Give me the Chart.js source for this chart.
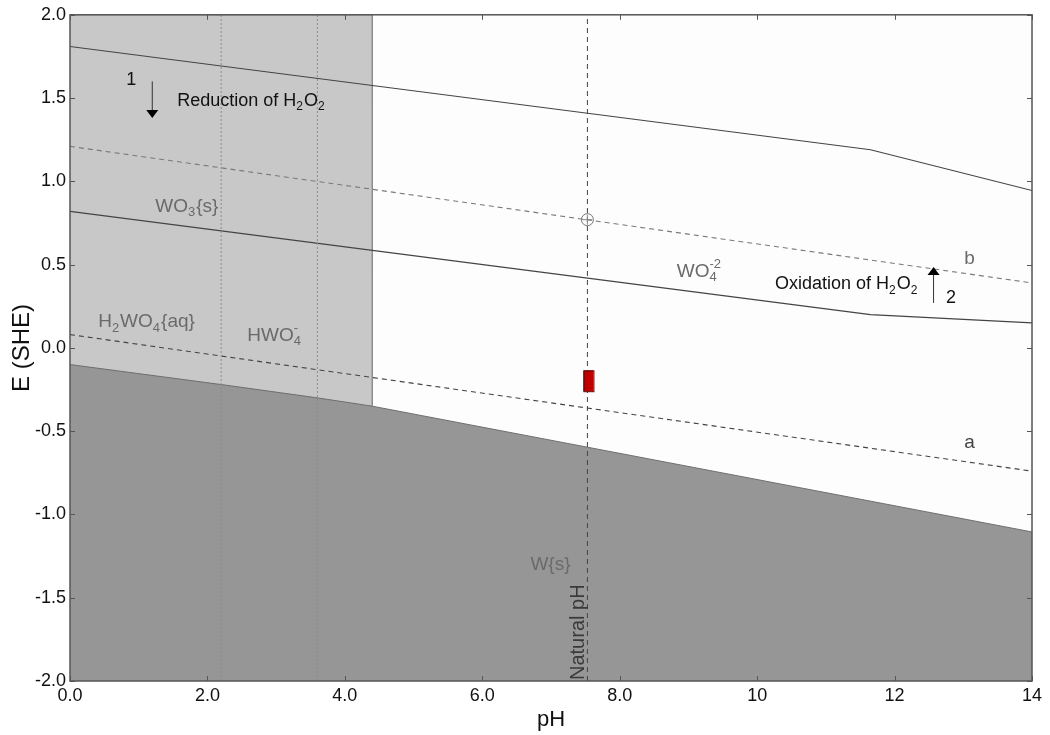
<!DOCTYPE html>
<html>
<head>
<meta charset="utf-8">
<script src="https://cdn.jsdelivr.net/npm/chart.js@4"></script>
<style>
  html, body { margin: 0; padding: 0; background: #fff; }
</style>
</head>
<body>
<canvas id="chartPourbaix" width="1050" height="735"></canvas>
<script>
// --- datos ---
const xTicks = [0, 2, 4, 6, 8, 10, 12, 14];
const yTicks = [-2.0, -1.5, -1.0, -0.5, 0.0, 0.5, 1.0, 1.5, 2.0];

const phSuperior = [0, 11.65, 14];
const eSuperior = [1.81, 1.19, 0.945];

const phLineaB = [0, 14];
const eLineaB = [1.21, 0.39];

const phWO3 = [0, 11.65, 14];
const eWO3 = [0.82, 0.20, 0.15];

const phLineaA = [0, 14];
const eLineaA = [0.08, -0.74];

const phW = [0, 2.2, 3.6, 4.4, 14];
const eW = [-0.10, -0.22, -0.30, -0.35, -1.105];

const phZonaAcida = 4.4;
const pKas = [2.2, 3.6];
const phNatural = 7.53;
const eCirculo = 0.77;
const barraRoja = [-0.26, -0.135];

const flecha1 = { ph: 1.19, desde: 1.60, hasta: 1.38 };
const flecha2 = { ph: 12.56, desde: 0.27, hasta: 0.485 };

const pares = (xs, ys) => xs.map((x, i) => ({ x, y: ys[i] }));

// textos con subindices: {sub, sup}
const textos = [
  { ph: 0.89, e: 1.61, partes: ["1"], color: "#111", size: 18, align: "center" },
  { ph: 1.56, e: 1.484, partes: ["Reduction of H", { sub: "2" }, "O", { sub: "2" }], color: "#111", size: 18 },
  { ph: 10.26, e: 0.381, partes: ["Oxidation of H", { sub: "2" }, "O", { sub: "2" }], color: "#111", size: 18 },
  { ph: 12.82, e: 0.297, partes: ["2"], color: "#111", size: 18, align: "center" },
  { ph: 1.24, e: 0.85, partes: ["WO", { sub: "3" }, "{s}"], color: "#6a6a6a", size: 19 },
  { ph: 0.41, e: 0.155, partes: ["H", { sub: "2" }, "WO", { sub: "4" }, "{aq}"], color: "#6a6a6a", size: 19 },
  { ph: 2.58, e: 0.075, partes: ["HWO", { sub: "4", sup: "-" }], color: "#6a6a6a", size: 19 },
  { ph: 8.83, e: 0.46, partes: ["WO", { sub: "4", sup: "-2" }], color: "#6a6a6a", size: 19 },
  { ph: 13.09, e: 0.537, partes: ["b"], color: "#6a6a6a", size: 19, align: "center" },
  { ph: 13.09, e: -0.567, partes: ["a"], color: "#444", size: 19, align: "center" },
  { ph: 6.70, e: -1.305, partes: ["W{s}"], color: "#6a6a6a", size: 19 }
];

function dibujarRico(ctx, t, px, py) {
  const fuente = t.size;
  const chica = Math.round(fuente * 0.68);
  ctx.fillStyle = t.color;
  ctx.textBaseline = "middle";
  ctx.textAlign = "left";
  let ancho = 0;
  t.partes.forEach(p => {
    if (typeof p === "string") {
      ctx.font = `${fuente}px "Liberation Sans", Arial, sans-serif`;
      ancho += ctx.measureText(p).width;
    } else {
      ctx.font = `${chica}px "Liberation Sans", Arial, sans-serif`;
      ancho += Math.max(ctx.measureText(p.sub || "").width, ctx.measureText(p.sup || "").width) + 1;
    }
  });
  let x = t.align === "center" ? px - ancho / 2 : px;
  t.partes.forEach(p => {
    if (typeof p === "string") {
      ctx.font = `${fuente}px "Liberation Sans", Arial, sans-serif`;
      ctx.fillText(p, x, py);
      x += ctx.measureText(p).width;
    } else {
      ctx.font = `${chica}px "Liberation Sans", Arial, sans-serif`;
      let w = 0;
      if (p.sub) {
        ctx.fillText(p.sub, x, py + fuente * 0.32);
        w = ctx.measureText(p.sub).width;
      }
      if (p.sup) {
        ctx.fillText(p.sup, x, py - fuente * 0.38);
        w = Math.max(w, ctx.measureText(p.sup).width);
      }
      x += w + 1;
    }
  });
}

function dibujarFlecha(ctx, xs, ys, f) {
  const x = xs.getPixelForValue(f.ph);
  const y0 = ys.getPixelForValue(f.desde);
  const y1 = ys.getPixelForValue(f.hasta);
  const dir = y1 > y0 ? 1 : -1;
  ctx.strokeStyle = "#333";
  ctx.lineWidth = 1;
  ctx.beginPath();
  ctx.moveTo(x + 0.5, y0);
  ctx.lineTo(x + 0.5, y1 - dir * 6);
  ctx.stroke();
  ctx.fillStyle = "#000";
  ctx.beginPath();
  ctx.moveTo(x + 0.5, y1);
  ctx.lineTo(x - 5.5, y1 - dir * 8);
  ctx.lineTo(x + 6.5, y1 - dir * 8);
  ctx.closePath();
  ctx.fill();
}

const pluginDecoracion = {
  id: "decoracion",
  beforeDraw(chart) {
    const { ctx, chartArea: a } = chart;
    ctx.save();
    ctx.fillStyle = "#fdfdfd";
    ctx.fillRect(a.left, a.top, a.right - a.left, a.bottom - a.top);
    ctx.restore();
  },
  afterDatasetsDraw(chart) {
    const { ctx, chartArea: a, scales } = chart;
    const xs = scales.x, ys = scales.y;
    ctx.save();

    // barra roja en pH natural
    const xb = xs.getPixelForValue(phNatural);
    const yTop = ys.getPixelForValue(barraRoja[1]);
    const yBot = ys.getPixelForValue(barraRoja[0]);
    ctx.fillStyle = "#c00000";
    ctx.strokeStyle = "#5a0000";
    ctx.lineWidth = 1;
    ctx.fillRect(xb - 4, yTop, 10, yBot - yTop);
    ctx.strokeRect(xb - 4 + 0.5, yTop + 0.5, 10, yBot - yTop);

    dibujarFlecha(ctx, xs, ys, flecha1);
    dibujarFlecha(ctx, xs, ys, flecha2);

    textos.forEach(t => dibujarRico(ctx, t, xs.getPixelForValue(t.ph), ys.getPixelForValue(t.e)));

    // etiqueta vertical "Natural pH"
    ctx.translate(xs.getPixelForValue(phNatural) - 9, a.bottom - 1);
    ctx.rotate(-Math.PI / 2);
    ctx.font = '20px "Liberation Sans", Arial, sans-serif';
    ctx.fillStyle = "#3a3a3a";
    ctx.textAlign = "left";
    ctx.textBaseline = "middle";
    ctx.fillText("Natural pH", 0, 0);
    ctx.restore();

    // marco y marcas hacia adentro
    ctx.save();
    ctx.strokeStyle = "#555";
    ctx.lineWidth = 1.5;
    ctx.strokeRect(a.left, a.top, a.right - a.left, a.bottom - a.top);
    ctx.lineWidth = 1;
    ctx.beginPath();
    xs.ticks.forEach(t => {
      const x = Math.round(xs.getPixelForValue(t.value)) + 0.5;
      ctx.moveTo(x, a.bottom); ctx.lineTo(x, a.bottom - 5);
      ctx.moveTo(x, a.top); ctx.lineTo(x, a.top + 5);
    });
    ys.ticks.forEach(t => {
      const y = Math.round(ys.getPixelForValue(t.value)) + 0.5;
      ctx.moveTo(a.left, y); ctx.lineTo(a.left + 5, y);
      ctx.moveTo(a.right, y); ctx.lineTo(a.right - 5, y);
    });
    ctx.stroke();
    ctx.restore();
  }
};

const lineaVertical = (x, color, dash, ancho) => ({
  data: [{ x, y: -2 }, { x, y: 2 }],
  borderColor: color,
  borderWidth: ancho,
  borderDash: dash,
  pointRadius: 0,
  showLine: true,
  fill: false
});

const ctx = document.getElementById("chartPourbaix").getContext("2d");

new Chart(ctx, {
  type: "scatter",
  data: {
    datasets: [
      {
        data: [{ x: phNatural, y: eCirculo }],
        pointStyle: "circle",
        pointRadius: 6,
        borderColor: "#777",
        borderWidth: 1,
        backgroundColor: "rgba(0,0,0,0)"
      },
      {
        data: [{ x: phNatural, y: eCirculo }],
        pointStyle: "cross",
        pointRadius: 5,
        borderColor: "#888",
        borderWidth: 1
      },
      lineaVertical(phNatural, "#444", [5, 4], 1),
      lineaVertical(pKas[0], "#8a8a8a", [2, 2], 1),
      lineaVertical(pKas[1], "#8a8a8a", [2, 2], 1),
      {
        data: pares(phSuperior, eSuperior),
        borderColor: "#444",
        borderWidth: 1.1,
        pointRadius: 0,
        showLine: true,
        fill: false
      },
      {
        data: pares(phLineaB, eLineaB),
        borderColor: "#7a7a7a",
        borderWidth: 1.1,
        borderDash: [5, 4],
        pointRadius: 0,
        showLine: true,
        fill: false
      },
      {
        data: pares(phWO3, eWO3),
        borderColor: "#444",
        borderWidth: 1.1,
        pointRadius: 0,
        showLine: true,
        fill: false
      },
      {
        data: pares(phLineaA, eLineaA),
        borderColor: "#444",
        borderWidth: 1.1,
        borderDash: [5, 4],
        pointRadius: 0,
        showLine: true,
        fill: false
      },
      {
        data: pares(phW, eW),
        borderColor: "#6e6e6e",
        borderWidth: 1,
        backgroundColor: "#969696",
        pointRadius: 0,
        showLine: true,
        fill: "start"
      },
      {
        data: [{ x: 0, y: 2 }, { x: phZonaAcida, y: 2 }, { x: phZonaAcida, y: -2 }],
        borderColor: "#8c8c8c",
        borderWidth: 1,
        backgroundColor: "#c8c8c8",
        pointRadius: 0,
        showLine: true,
        fill: "start"
      }
    ]
  },
  options: {
    responsive: false,
    animation: false,
    layout: { padding: { left: 0, right: 18, top: 14, bottom: 0 } },
    plugins: {
      legend: { display: false },
      tooltip: { enabled: false }
    },
    scales: {
      x: {
        type: "linear",
        min: 0,
        max: 14,
        afterBuildTicks: s => { s.ticks = xTicks.map(v => ({ value: v })); },
        afterFit: s => { s.height = 54; },
        grid: { display: false, drawTicks: false },
        border: { display: false },
        ticks: {
          padding: 4,
          color: "#111",
          font: { family: '"Liberation Sans Narrow", "Liberation Sans", Arial', size: 18 },
          callback: v => (v < 10 ? v.toFixed(1) : String(v)),
          maxRotation: 0
        },
        title: {
          display: true,
          text: "pH",
          color: "#111",
          font: { family: '"Liberation Sans Narrow", "Liberation Sans", Arial', size: 22 },
          padding: { top: 0, bottom: 2 }
        }
      },
      y: {
        type: "linear",
        min: -2,
        max: 2,
        afterBuildTicks: s => { s.ticks = yTicks.map(v => ({ value: v })); },
        afterFit: s => { s.width = 70; },
        grid: { display: false, drawTicks: false },
        border: { display: false },
        ticks: {
          padding: 4,
          color: "#111",
          font: { family: '"Liberation Sans", Arial', size: 18 },
          callback: v => v.toFixed(1)
        },
        title: {
          display: true,
          text: "E (SHE)",
          color: "#111",
          font: { family: '"Liberation Sans", Arial', size: 24 },
          padding: { top: 8, bottom: 0 }
        }
      }
    }
  },
  plugins: [pluginDecoracion]
});
</script>
</body>
</html>
